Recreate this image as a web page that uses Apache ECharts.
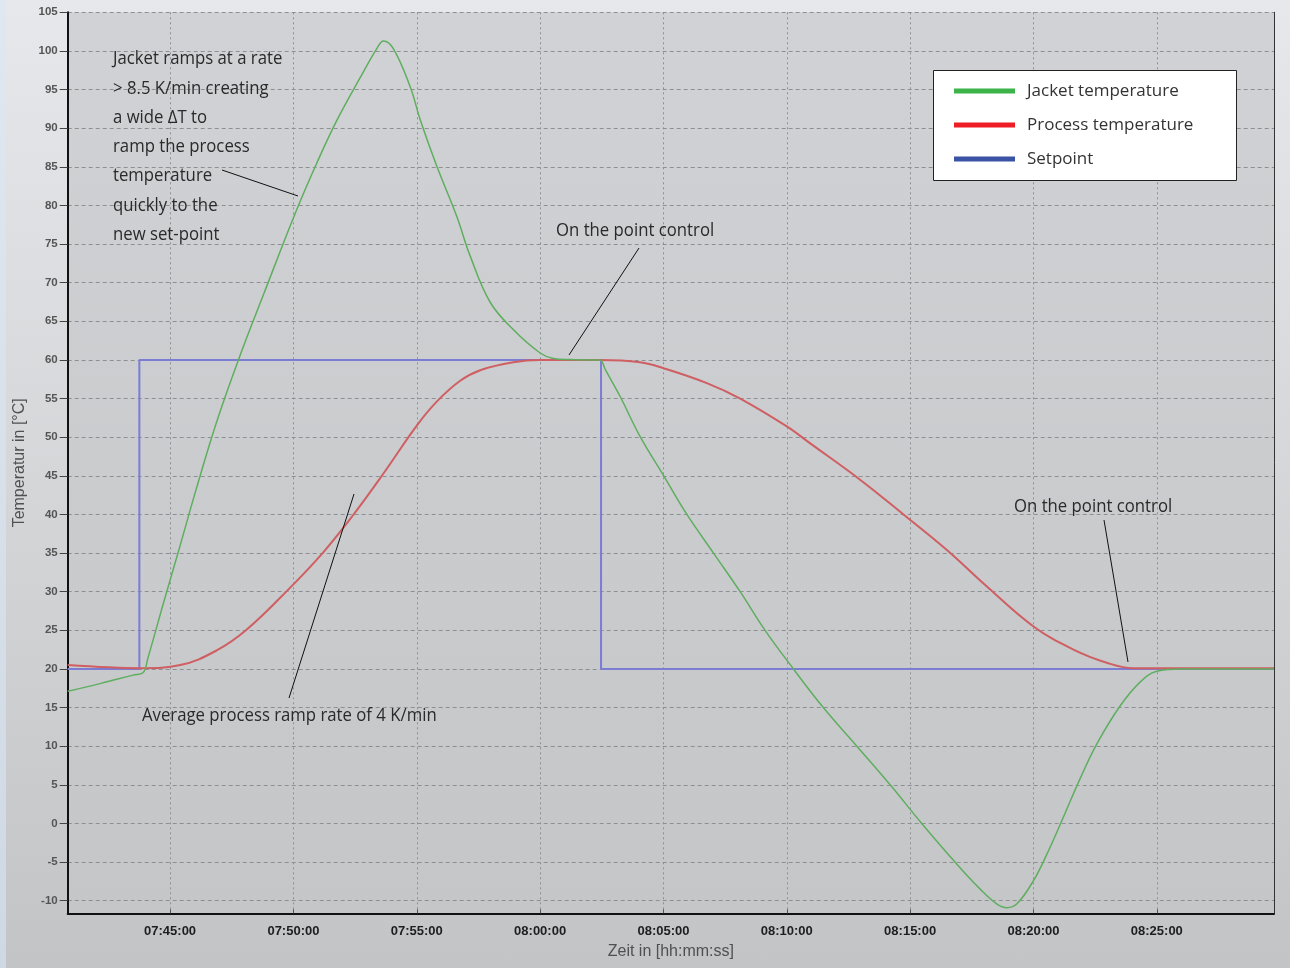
<!DOCTYPE html>
<html><head><meta charset="utf-8">
<script src="https://cdn.jsdelivr.net/npm/echarts@6/dist/echarts.min.js"></script>
<style>
html,body{margin:0;padding:0;width:1290px;height:968px;overflow:hidden;}
body{background:linear-gradient(to bottom,#e6e8eb,#c2c4c6);}
#strip{position:absolute;left:0;top:0;width:6px;height:968px;background:linear-gradient(to bottom,#dfe8f0,#cfd9e3);}
#chart{position:absolute;left:0;top:0;width:1290px;height:968px;}
</style></head><body><div id="strip"></div><div id="chart"></div>
<script>
// time in minutes after 07:40:00
const timeTicks = [5, 10, 15, 20, 25, 30, 35, 40, 45];
const tempTicks = [-10, -5, 0, 5, 10, 15, 20, 25, 30, 35, 40, 45, 50, 55, 60, 65, 70, 75, 80, 85, 90, 95, 100, 105];

const jacketTime = [0.85, 2.16, 3.5, 3.9, 4.1, 4.73, 5.41, 6.08, 6.89, 7.77, 8.78, 10.14, 10.95, 11.76, 12.70, 13.38, 13.65, 14.05, 14.73, 15.14, 15.81, 16.62, 17.16, 17.97, 18.92, 20.0, 20.53, 21.22, 22.2, 22.43, 22.65, 23.24, 24.05, 25.03, 25.95, 27.03, 28.11, 29.12, 30.27, 31.48, 32.84, 34.19, 35.47, 36.82, 37.84, 38.51, 38.92, 39.33, 40.0, 40.54, 41.21, 41.89, 42.57, 43.51, 44.32, 45.0, 46.0, 49.75];
const jacketTemp = [17.1, 18.1, 19.2, 19.5, 21.4, 28.5, 36, 43.5, 52, 60, 68.4, 79.5, 85.5, 91, 96.5, 100.3, 101.3, 100.3, 95.4, 91.1, 85.1, 78.6, 73.5, 67.5, 63.9, 60.9, 60.2, 60.05, 60, 60, 58.7, 55.3, 50.1, 44.9, 40, 35, 30, 25, 20, 15, 10, 5, 0, -5, -8.5, -10.4, -10.9, -10.4, -7.4, -4.0, 0.8, 5.8, 10.3, 15.2, 18.3, 19.7, 20, 20];

const processTime = [0.85, 3.9, 5.41, 6.89, 8.11, 9.86, 11.21, 12.37, 13.65, 15.0, 15.81, 16.76, 17.6, 18.91, 20.0, 22.43, 24.05, 25.03, 26.76, 28.11, 30.0, 30.95, 32.97, 34.73, 36.49, 38.1, 40.0, 41.62, 42.97, 44.05, 45.0, 49.75];
const processTemp = [20.5, 20.1, 20.5, 22.4, 25.1, 30.5, 35.1, 39.7, 45.3, 51.5, 54.6, 57.3, 58.7, 59.7, 60, 60, 59.7, 58.9, 57, 55, 51.4, 49.2, 44.5, 40, 35.4, 30.7, 25.5, 22.5, 20.8, 20.1, 20.1, 20.1];

const setpointTime = [0.85, 3.755, 3.755, 22.47, 22.47, 49.75];
const setpointTemp = [20, 20, 60, 60, 20, 20];

const seriesNames = ['Jacket temperature', 'Process temperature', 'Setpoint'];

function pairs(t, v) { return t.map((x, i) => [x, v[i]]); }
function fmtTime(m) {
  const total = Math.round((7 * 60 + 40 + m) * 60);
  const h = Math.floor(total / 3600), mi = Math.floor((total % 3600) / 60), s = total % 60;
  const p = n => String(n).padStart(2, '0');
  return p(h) + ':' + p(mi) + ':' + p(s);
}

const FONT = '"Open Sans", "Noto Sans", sans-serif';
const AXF = '"Liberation Sans", Arial, sans-serif';
const chart = echarts.init(document.getElementById('chart'), null, { renderer: 'canvas' });

function annot(text, x, y, extraStyle) {
  return { type: 'text', z: 60, x: x, y: y, scaleX: 0.93,
    style: Object.assign({ text: text, font: '18px ' + FONT, fill: '#2a2a2a', verticalAlign: 'middle' }, extraStyle || {}) };
}

const option = {
  animation: false,
  backgroundColor: 'transparent',
  grid: {
    left: 67.7, right: 16, top: 12.3, bottom: 54.7,
    show: true, borderWidth: 0,
    backgroundColor: new echarts.graphic.LinearGradient(0, 0, 0, 1, [
      { offset: 0, color: '#d0d2d5' }, { offset: 1, color: '#c4c6c8' }
    ])
  },
  legend: {
    z: 100,
    orient: 'vertical',
    left: 954, top: 79, padding: 0,
    itemWidth: 61, itemHeight: 5, itemGap: 10,
    icon: 'rect',
    data: seriesNames,
    textStyle: { fontFamily: FONT, fontSize: 17, lineHeight: 24, color: '#333', padding: [0, 0, 0, 7] }
  },
  xAxis: {
    type: 'value', min: 0.85, max: 49.75,
    name: 'Zeit in [hh:mm:ss]', nameLocation: 'middle', nameGap: 30,
    nameTextStyle: { fontFamily: AXF, fontSize: 16, color: '#505050' },
    axisLine: { show: true, onZero: false, lineStyle: { color: '#111', width: 2 } },
    axisTick: { show: true, inside: true, length: 4, customValues: timeTicks, lineStyle: { color: '#555' } },
    axisLabel: {
      customValues: timeTicks, formatter: v => fmtTime(v), margin: 12,
      fontFamily: AXF, fontSize: 13, fontWeight: 'bold', color: '#1e1e1e'
    },
    splitLine: { show: true, lineStyle: { color: '#8d9093', type: [2, 3], width: 1 } }
  },
  yAxis: [{
    type: 'value', min: -11.63, max: 105,
    name: 'Temperatur in [°C]', nameLocation: 'middle', nameGap: 36,
    nameTextStyle: { fontFamily: AXF, fontSize: 16, color: '#505050' },
    axisLine: { show: true, onZero: false, lineStyle: { color: '#111', width: 2 } },
    axisTick: { show: true, inside: false, length: 8, customValues: tempTicks, lineStyle: { color: '#444' } },
    axisLabel: {
      customValues: tempTicks, margin: 10,
      fontFamily: AXF, fontSize: 11.5, fontWeight: 'bold', color: '#555'
    },
    splitLine: { show: true, lineStyle: { color: '#8d9093', type: [4, 3], width: 1 } }
  }, {
    type: 'value', min: -11.63, max: 105, position: 'right',
    axisLine: { show: true, lineStyle: { color: '#333', width: 1 } },
    axisTick: { show: false }, axisLabel: { show: false }, splitLine: { show: false }
  }],
  series: [
    {
      name: seriesNames[2], type: 'line', data: pairs(setpointTime, setpointTemp),
      symbol: 'none', z: 2,
      itemStyle: { color: '#3a53a4' },
      lineStyle: { color: '#7b7cd4', width: 2 }
    },
    {
      name: seriesNames[1], type: 'line', data: pairs(processTime, processTemp),
      symbol: 'none', smooth: 0.4, z: 3,
      itemStyle: { color: '#ee1c25' },
      lineStyle: { color: '#cf5f62', width: 2 }
    },
    {
      name: seriesNames[0], type: 'line', data: pairs(jacketTime, jacketTemp),
      symbol: 'none', smooth: 0.4, z: 4,
      itemStyle: { color: '#3cb44a' },
      lineStyle: { color: '#5fae5f', width: 1.5 }
    }
  ],
  graphic: [
    { type: 'rect', z: 50, shape: { x: 933.5, y: 70.5, width: 303, height: 110 },
      style: { fill: '#ffffff', stroke: '#222', lineWidth: 1 } },
    annot('Jacket ramps at a rate\n> 8.5 K/min creating\na wide ΔT to\nramp the process\ntemperature\nquickly to the\nnew set-point', 113, 44.5,
      { lineHeight: 29.3, verticalAlign: 'top' }),
    { type: 'line', z: 60, shape: { x1: 222, y1: 170, x2: 298, y2: 196 }, style: { stroke: '#111', lineWidth: 1 } },
    annot('On the point control', 556, 231),
    { type: 'line', z: 60, shape: { x1: 639, y1: 248, x2: 569, y2: 355 }, style: { stroke: '#111', lineWidth: 1 } },
    annot('On the point control', 1014, 507),
    { type: 'line', z: 60, shape: { x1: 1104, y1: 520, x2: 1128, y2: 662 }, style: { stroke: '#111', lineWidth: 1 } },
    annot('Average process ramp rate of 4 K/min', 142, 716),
    { type: 'line', z: 60, shape: { x1: 354, y1: 494, x2: 289, y2: 698 }, style: { stroke: '#111', lineWidth: 1 } }
  ]
};
chart.setOption(option);
</script></body></html>
